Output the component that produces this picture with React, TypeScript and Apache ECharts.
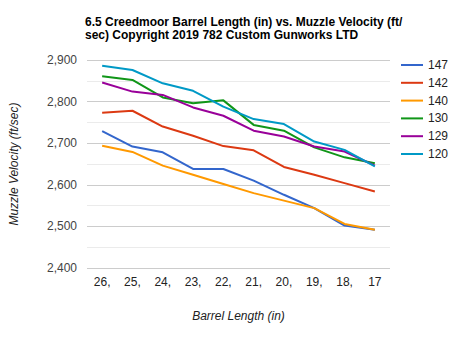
import React, { useEffect, useRef } from "react";
import * as echarts from "echarts";

const categories = ["26,", "25,", "24,", "23,", "22,", "21,", "20,", "19,", "18,", "17"];
const seriesNames = ["147", "142", "140", "130", "129", "120"];
const v147 = [2729, 2692, 2678, 2638, 2638, 2610, 2576, 2544, 2502, 2492];
const v142 = [2773, 2778, 2740, 2718, 2693, 2683, 2643, 2624, 2604, 2584];
const v140 = [2694, 2679, 2646, 2624, 2602, 2580, 2562, 2544, 2506, 2492];
const v130 = [2861, 2852, 2810, 2796, 2803, 2744, 2730, 2690, 2666, 2652];
const v129 = [2846, 2824, 2816, 2786, 2766, 2730, 2716, 2692, 2680, 2646];
const v120 = [2886, 2876, 2844, 2826, 2788, 2758, 2746, 2704, 2684, 2644];
const seriesValues = [v147, v142, v140, v130, v129, v120];
const colors = ["#3366cc", "#dc3912", "#ff9900", "#109618", "#990099", "#0099c6"];

const FONT = "'Liberation Sans', Arial, sans-serif";

export default function App() {
  const ref = useRef<HTMLDivElement>(null);
  useEffect(() => {
    if (!ref.current) return;
    const chart = echarts.init(ref.current, null, { renderer: "svg" });
    chart.setOption({
      animation: false,
      color: colors,
      textStyle: { fontFamily: FONT },
      title: {
        text: "6.5 Creedmoor Barrel Length (in) vs. Muzzle Velocity (ft/\nsec) Copyright 2019 782 Custom Gunworks LTD",
        left: 80,
        top: 10,
        textStyle: { fontFamily: FONT, fontSize: 12, fontWeight: "bold", color: "#000", lineHeight: 13.5 },
      },
      legend: {
        orient: "vertical",
        left: 401,
        top: 59,
        itemWidth: 22,
        itemHeight: 2,
        itemGap: 5.8,
        icon: "rect",
        padding: 0,
        textStyle: { fontFamily: FONT, fontSize: 12, color: "#222", lineHeight: 12 },
        data: seriesNames,
      },
      grid: { left: 85, right: 84, top: 60, bottom: 73 },
      xAxis: {
        type: "category",
        data: categories,
        boundaryGap: true,
        axisLine: { show: false },
        axisTick: { show: false },
        axisLabel: { fontFamily: FONT, fontSize: 12, color: "#222", margin: 8 },
        name: "Barrel Length (in)",
        nameLocation: "middle",
        nameGap: 42,
        nameTextStyle: { fontFamily: FONT, fontSize: 12, fontStyle: "italic", color: "#222" },
      },
      yAxis: {
        type: "value",
        min: 2400,
        max: 2900,
        interval: 100,
        axisLine: { show: false },
        axisTick: { show: false },
        axisLabel: {
          fontFamily: FONT,
          fontSize: 12,
          color: "#444",
          margin: 10,
          formatter: (v: number) => v.toLocaleString("en-US"),
        },
        splitLine: { show: true, lineStyle: { color: "#cccccc", width: 1 } },
        minorTick: { show: false, splitNumber: 2 },
        minorSplitLine: { show: true, lineStyle: { color: "#ebebeb", width: 1 } },
        name: "Muzzle Velocity (ft/sec)",
        nameLocation: "middle",
        nameGap: 67,
        nameRotate: 90,
        nameTextStyle: { fontFamily: FONT, fontSize: 12, fontStyle: "italic", color: "#222" },
      },
      series: seriesNames.map((name, i) => ({
        name,
        type: "line",
        data: seriesValues[i],
        symbol: "none",
        lineStyle: { width: 2, color: colors[i] },
        itemStyle: { color: colors[i] },
      })),
    });
    return () => chart.dispose();
  }, []);
  return <div ref={ref} style={{ width: 474, height: 341, margin: -8 }} />;
}
